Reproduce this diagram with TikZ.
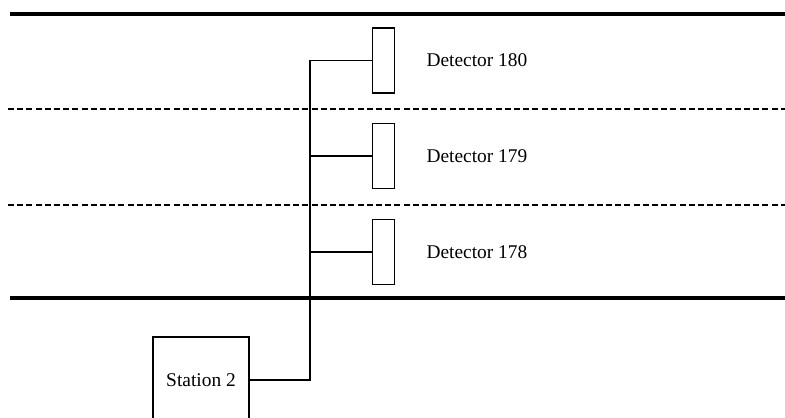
\documentclass[tikz,border=0pt]{standalone}
\usepackage{fontspec}
\setmainfont{Liberation Serif}
\usetikzlibrary{positioning}
\tikzset{
    detbox/.style={draw, line width=0.6pt, inner sep=0pt,
        minimum width=11pt, minimum height=32.5pt},
    detlabel/.style={inner sep=0pt, font=\fontsize{9.7}{11}\selectfont},
    stationbox/.style={draw, line width=0.6pt, inner sep=0pt, align=center,
        font=\fontsize{9.7}{11}\selectfont, minimum width=48pt, minimum height=43pt},
    trackline/.style={line width=2pt},
    zoneline/.style={line width=0.75pt, dash pattern=on 3pt off 1.6pt},
    wire/.style={line width=0.55pt}
}
\begin{document}
\begin{tikzpicture}[x=0.5pt, y=0.5pt, node distance=15.5pt]
\useasboundingbox (0,0) rectangle (785,417);
% track edges and zone borders
\draw[trackline] (10,403) -- (785,403);
\draw[zoneline] (8,308) -- (785,308);
\draw[zoneline] (8,212) -- (785,212);
\draw[trackline] (10,119) -- (785,119);
% detectors
\node[detbox] (det180) at (383.5,356.5) {};
\node[detbox] (det179) at (383.5,261) {};
\node[detbox] (det178) at (383.5,165) {};
\node[detlabel, right=of det180] (lab180) {Detector 180};
\node[detlabel, right=of det179] (lab179) {Detector 179};
\node[detlabel, right=of det178] (lab178) {Detector 178};
% station
\node[stationbox] (station) at (201,37) {Station 2};
\coordinate (bus) at (310,356.5);
\draw[wire] (station.east) -| (bus) -- (det180.west);
\draw[wire] (det179.west) -- (det179.west -| bus);
\draw[wire] (det178.west) -- (det178.west -| bus);
\end{tikzpicture}
\end{document}
